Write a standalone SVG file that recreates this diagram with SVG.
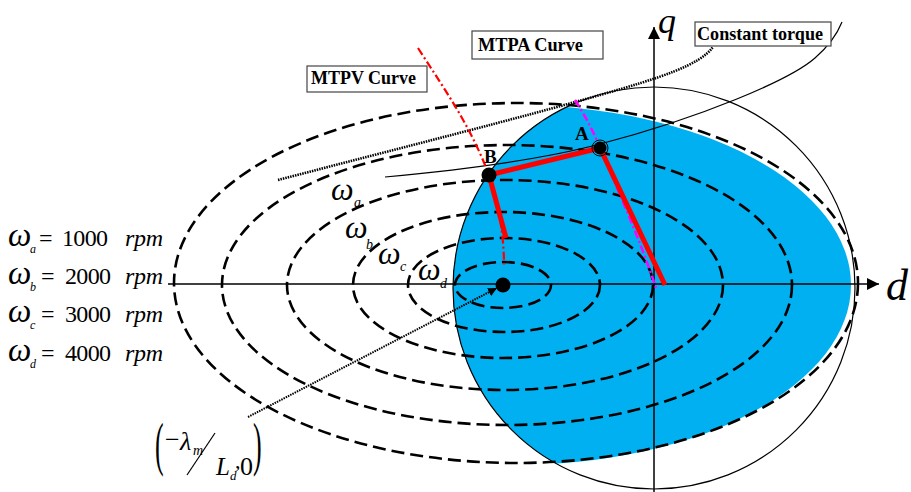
<svg xmlns="http://www.w3.org/2000/svg" width="911" height="492" viewBox="0 0 911 492">
<style>
.ell{fill:none;stroke:#000;stroke-width:2.6;stroke-dasharray:13 6}
.thin{fill:none;stroke:#000;stroke-width:1.2}
.box{fill:#fff;stroke:#444;stroke-width:1.2}
.lbl{font-family:"Liberation Serif",serif;font-weight:bold;font-size:19px;fill:#000}
.it{font-family:"Liberation Serif",serif;font-style:italic;fill:#000}
.rm{font-family:"Liberation Serif",serif;fill:#000}
.red{fill:none;stroke:#f00;stroke-width:5;stroke-linejoin:round}
</style>
<defs>
<clipPath id="cc"><circle cx="654" cy="288" r="201"/></clipPath>
<marker id="ah" viewBox="0 0 10 10" refX="10" refY="5" markerWidth="9" markerHeight="9" markerUnits="userSpaceOnUse" orient="auto"><path d="M0,0 L10,5 L0,10 z" fill="#000"/></marker>
<marker id="ah2" viewBox="0 0 10 10" refX="10" refY="5" markerWidth="14" markerHeight="12" markerUnits="userSpaceOnUse" orient="auto"><path d="M0,0 L10,5 L0,10 z" fill="#000"/></marker>
</defs>
<g id="region">
<ellipse cx="515" cy="285" rx="336" ry="180" fill="#00b0f0" clip-path="url(#cc)"/>
</g>
<g id="connectors">
<ellipse class="ell" cx="516" cy="283" rx="342" ry="180"/>
<ellipse class="ell" cx="507" cy="285" rx="285" ry="140"/>
<ellipse class="ell" cx="505" cy="285" rx="218" ry="105"/>
<ellipse class="ell" cx="503" cy="285" rx="150" ry="73"/>
<ellipse class="ell" cx="504" cy="285" rx="96" ry="47"/>
<ellipse class="ell" cx="503" cy="285" rx="48" ry="23"/>
<circle class="thin" cx="654" cy="288" r="201" stroke-width="1.5"/>
<line x1="168" y1="284" x2="879" y2="284" stroke="#000" stroke-width="1.5" marker-end="url(#ah2)"/>
<line x1="654" y1="492" x2="654" y2="27" stroke="#000" stroke-width="1.5" marker-end="url(#ah2)"/>
<path d="M278,180 C400,148 520,118 600,95 C660,78 700,65 713,47" fill="none" stroke="#000" stroke-width="2.6" stroke-dasharray="1.5 1"/>
<path class="thin" d="M385,177 C460,170 540,160 600,144 C700,118 790,80 815,58 C830,45 838,32 842,22"/>
<path d="M418,48 C445,90 470,125 489,175 C498,200 504,235 504,265" fill="none" stroke="#f00" stroke-width="2.2" stroke-dasharray="8 3 2 3"/>
<path d="M575,100 C585,115 595,135 600,148 C620,195 640,240 656,288" fill="none" stroke="#f0f" stroke-width="2.5" stroke-dasharray="8 3 2 3"/>
<polyline class="red" points="506,238 489,175 600,148 665,285"/>
<line x1="248" y1="417" x2="497" y2="288" stroke="#000" stroke-width="2" stroke-dasharray="1.5 1" marker-end="url(#ah)"/>
</g>
<g id="pointB"><circle cx="489" cy="175" r="7.5" fill="#000"/><text class="lbl" x="484" y="163" font-size="17">B</text></g>
<g id="pointA"><circle cx="600" cy="148" r="8" fill="none" stroke="#000" stroke-width="1"/><circle cx="600" cy="148" r="6.5" fill="#000"/><text class="lbl" x="575" y="140" font-size="17">A</text></g>
<g id="center"><circle cx="503" cy="285" r="7.5" fill="#000"/></g>
<g id="mtpv"><rect class="box" x="307" y="66" width="120" height="26"/><text class="lbl" x="311" y="84" textLength="105" lengthAdjust="spacingAndGlyphs">MTPV Curve</text></g>
<g id="mtpa"><rect class="box" x="472" y="31" width="131" height="28"/><text class="lbl" x="478" y="51" textLength="105" lengthAdjust="spacingAndGlyphs">MTPA Curve</text></g>
<g id="torque"><rect class="box" x="695" y="22" width="136" height="24"/><text class="lbl" x="697" y="40" textLength="126" lengthAdjust="spacingAndGlyphs">Constant torque</text></g>
<g id="axislabels">
<text class="it" x="658" y="33" font-size="36">q</text>
<text class="it" x="886" y="300" font-size="44">d</text>
</g>
<g id="speedlabels">
<text class="it" x="331" y="200" font-size="32">ω</text><text class="it" x="354" y="207" font-size="14">a</text>
<text class="it" x="345" y="238" font-size="32">ω</text><text class="it" x="366" y="249" font-size="14">b</text>
<text class="it" x="378" y="264" font-size="32">ω</text><text class="it" x="400" y="271" font-size="14">c</text>
<text class="it" x="418" y="280" font-size="32">ω</text><text class="it" x="440" y="288" font-size="14">d</text>
</g>
<g id="legend">
<text class="it" x="8" y="246" font-size="33">ω</text><text class="it" x="30" y="253" font-size="12">a</text>
<text class="rm" x="39" y="246" font-size="24">=</text><text class="rm" x="62" y="246" font-size="24" textLength="46">1000</text><text class="it" x="125" y="246" font-size="24" textLength="38">rpm</text>
<text class="it" x="8" y="283.5" font-size="33">ω</text><text class="it" x="30" y="290.5" font-size="12">b</text>
<text class="rm" x="41" y="283.5" font-size="24">=</text><text class="rm" x="65" y="283.5" font-size="24" textLength="46">2000</text><text class="it" x="125" y="283.5" font-size="24" textLength="38">rpm</text>
<text class="it" x="8" y="322" font-size="33">ω</text><text class="it" x="30" y="329" font-size="12">c</text>
<text class="rm" x="41" y="322" font-size="24">=</text><text class="rm" x="65" y="322" font-size="24" textLength="46">3000</text><text class="it" x="125" y="322" font-size="24" textLength="38">rpm</text>
<text class="it" x="8" y="360.5" font-size="33">ω</text><text class="it" x="30" y="367.5" font-size="12">d</text>
<text class="rm" x="41" y="360.5" font-size="24">=</text><text class="rm" x="65" y="360.5" font-size="24" textLength="46">4000</text><text class="it" x="125" y="360.5" font-size="24" textLength="38">rpm</text>
</g>
<g id="formula">
<text class="rm" font-size="26" transform="translate(155,464) scale(1,2.3)">(</text>
<text class="rm" x="165" y="448" font-size="26">−</text>
<text class="it" x="180" y="450" font-size="26">λ</text>
<text class="it" x="193" y="455" font-size="14">m</text>
<line x1="215" y1="433" x2="187" y2="475" stroke="#000" stroke-width="1.2"/>
<text class="it" x="216" y="475" font-size="25">L</text>
<text class="it" x="230" y="480" font-size="13">d</text>
<text class="rm" x="235" y="468" font-size="22">,</text>
<text class="rm" x="240" y="475" font-size="26">0</text>
<text class="rm" font-size="26" transform="translate(253,464) scale(1,2.3)">)</text>
</g>
</svg>
